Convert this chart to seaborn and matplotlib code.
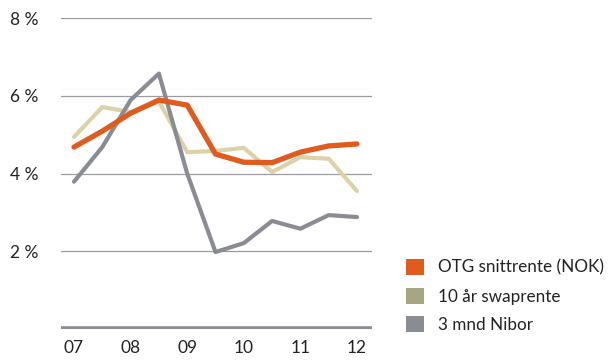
import numpy as np
import pandas as pd
import matplotlib
matplotlib.use("Agg")
import matplotlib.pyplot as plt
from matplotlib.patches import Patch
import seaborn as sns

# Half-year observations, 2007 to 2012
periods = [2007.0, 2007.5, 2008.0, 2008.5, 2009.0, 2009.5,
           2010.0, 2010.5, 2011.0, 2011.5, 2012.0]
otg = [4.68, 5.09, 5.55, 5.89, 5.76, 4.50, 4.29, 4.28, 4.55, 4.71, 4.76]
swap10 = [4.94, 5.71, 5.58, 5.85, 4.55, 4.58, 4.66, 4.04, 4.42, 4.38, 3.55]
nibor3m = [3.79, 4.68, 5.89, 6.57, 4.00, 1.98, 2.21, 2.78, 2.58, 2.93, 2.88]

series_names = ["OTG snittrente (NOK)", "10 år swaprente", "3 mnd Nibor"]
year_ticks = [2007, 2008, 2009, 2010, 2011, 2012]
year_labels = ["07", "08", "09", "10", "11", "12"]
pct_ticks = [2, 4, 6, 8]
pct_labels = ["2 %", "4 %", "6 %", "8 %"]

line_colors = {"OTG snittrente (NOK)": "#E05C1E",
               "10 år swaprente": "#DDD1AA",
               "3 mnd Nibor": "#8A8C94"}
legend_colors = ["#E05C1E", "#A7A683", "#8A8C94"]
line_widths = {"OTG snittrente (NOK)": 3.8,
               "10 år swaprente": 3.0,
               "3 mnd Nibor": 3.0}

df = pd.DataFrame({
    "period": periods * 3,
    "rate": otg + swap10 + nibor3m,
    "series": np.repeat(series_names, len(periods)),
})

sns.set_style("white")
plt.rcParams["font.family"] = ["Lato", "DejaVu Sans"]

fig = plt.figure(figsize=(6.08, 3.61), dpi=100)
ax = fig.add_axes([0.1003, 0.0886, 0.512, 0.8615])

ax.set_ylim(0, 8)
ax.set_xlim(2006.77, 2012.27)
for y in pct_ticks:
    ax.axhline(y, color="#9C9CA0", lw=0.9, zorder=1)
ax.axhline(0, color="#8A8C94", lw=4.0, zorder=1)

draw_order = ["10 år swaprente", "3 mnd Nibor", "OTG snittrente (NOK)"]
for i, name in enumerate(draw_order):
    sns.lineplot(data=df[df["series"] == name], x="period", y="rate",
                 color=line_colors[name], lw=line_widths[name],
                 ax=ax, zorder=3 + i, legend=False)

ax.set_xticks(year_ticks)
ax.set_xticklabels(year_labels)
ax.set_yticks(pct_ticks)
ax.set_yticklabels(pct_labels)
ax.tick_params(axis="both", length=0, labelsize=12.5, colors="#222222")
ax.tick_params(axis="y", pad=16)
ax.tick_params(axis="x", pad=8)
ax.set_xlabel("")
ax.set_ylabel("")
for s in ax.spines.values():
    s.set_visible(False)

handles = [Patch(facecolor=c, edgecolor="none") for c in legend_colors]
fig.legend(handles, series_names, loc="upper left",
           bbox_to_anchor=(0.642, 0.325), frameon=False,
           fontsize=12.3, handlelength=1.05, handleheight=1.05,
           handletextpad=0.85, labelspacing=0.7, labelcolor="#222222")

fig.savefig("out.png", dpi=100)
